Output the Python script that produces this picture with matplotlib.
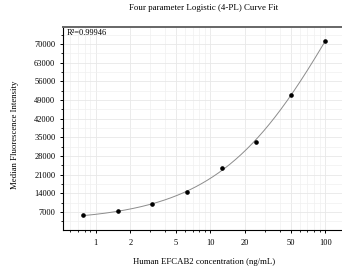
import numpy as np
import matplotlib
matplotlib.use("Agg")
import matplotlib.pyplot as plt
from matplotlib.ticker import LogLocator, FixedLocator, MultipleLocator, NullFormatter

plt.rcParams['font.family'] = ['Liberation Serif', 'DejaVu Serif']

# Data
conc = [0.78125, 1.5625, 3.125, 6.25, 12.5, 25, 50, 100]
mfi = [5800, 7300, 9900, 14400, 23600, 33400, 50900, 71100]
x_ticks = [1, 2, 5, 10, 20, 50, 100]
x_ticklabels = ["1", "2", "5", "10", "20", "50", "100"]
y_ticks = [7000, 14000, 21000, 28000, 35000, 42000, 49000, 56000, 63000, 70000]
r2_text = "R²=0.99946"
title = "Four parameter Logistic (4-PL) Curve Fit"
xlabel = "Human EFCAB2 concentration (ng/mL)"
ylabel = "Median Fluorescence Intensity"


def fit_4pl(x, y):
    x = np.asarray(x, float)
    y = np.asarray(y, float)
    logC = np.linspace(0, 4, 201)[:, None, None]
    B = np.linspace(0.3, 3.0, 136)[None, :, None]
    f = 1.0 / (1.0 + (x[None, None, :] / 10 ** logC) ** B)
    g = 1.0 - f
    sff = (f * f).sum(-1); sgg = (g * g).sum(-1); sfg = (f * g).sum(-1)
    sfy = (f * y).sum(-1); sgy = (g * y).sum(-1)
    det = sff * sgg - sfg ** 2
    det = np.where(np.abs(det) < 1e-12, np.nan, det)
    A = (sfy * sgg - sgy * sfg) / det
    D = (sgy * sff - sfy * sfg) / det
    pred = A[..., None] * f + D[..., None] * g
    sse = ((pred - y) ** 2).sum(-1)
    i, j = np.unravel_index(np.nanargmin(sse), sse.shape)
    return A[i, j], B[0, j, 0], 10 ** logC[i, 0, 0], D[i, j]


A, Bp, C, D = fit_4pl(conc, mfi)
xs = np.logspace(np.log10(min(conc)), np.log10(max(conc)), 300)
ys = D + (A - D) / (1 + (xs / C) ** Bp)

fig = plt.figure(figsize=(3.42, 2.73), dpi=100)
ax = fig.add_axes([63 / 342, 43 / 273, 279 / 342, 203 / 273])

ax.plot(xs, ys, color='#8c8c8c', lw=0.7, zorder=2)
ax.plot(conc, mfi, 'o', color='black', ms=2.3, zorder=3)

ax.set_xscale('log')
ax.set_xlim(0.519, 140)
ax.set_ylim(250, 76400)

ax.xaxis.set_major_locator(FixedLocator(x_ticks))
ax.set_xticklabels(x_ticklabels)
ax.xaxis.set_minor_locator(LogLocator(base=10, subs=np.arange(1, 10)))
ax.xaxis.set_minor_formatter(NullFormatter())
ax.yaxis.set_major_locator(FixedLocator(y_ticks))
ax.set_yticklabels([str(v) for v in y_ticks])
ax.yaxis.set_minor_locator(MultipleLocator(3500))

ax.grid(True, which='major', color='#e8e8e8', lw=0.6, zorder=0)
ax.grid(True, which='minor', color='#f0f0f0', lw=0.5, zorder=0)
ax.set_axisbelow(True)

ax.tick_params(axis='both', which='major', direction='out', length=2.5, width=0.7,
               labelsize=6, pad=3, colors='black')
ax.tick_params(axis='both', which='minor', direction='out', length=1.5, width=0.6)
ax.tick_params(axis='x', which='major', pad=4)

for s in ['left', 'bottom']:
    ax.spines[s].set_linewidth(0.8)
    ax.spines[s].set_color('black')
ax.spines['right'].set_visible(False)
ax.spines['top'].set_linewidth(1.4)
ax.spines['top'].set_color('#666666')

ax.text(0.012, 0.968, r2_text, transform=ax.transAxes, fontsize=6,
        ha='left', va='center')

fig.text(204 / 342, 1 - 8 / 273, title, ha='center', va='center', fontsize=6.4)
fig.text(204 / 342, 1 - 262 / 273, xlabel, ha='center', va='center', fontsize=6.3)
fig.text(15 / 342, 1 - 135 / 273, ylabel, ha='center', va='center', rotation=90,
         fontsize=6.3)

fig.savefig('out.png', dpi=100)
